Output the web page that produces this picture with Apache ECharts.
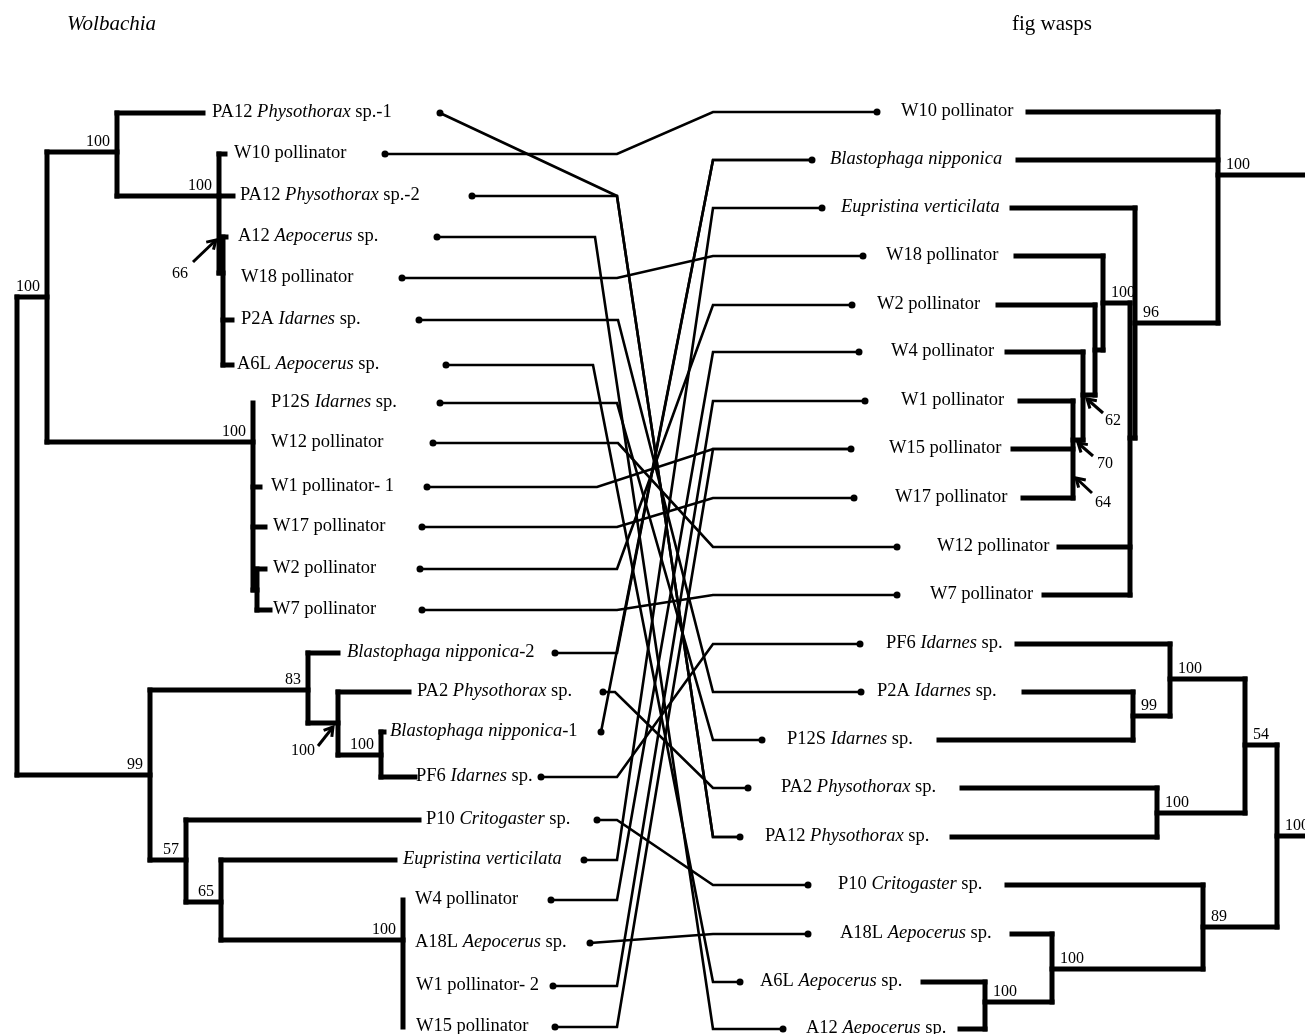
<!DOCTYPE html>
<html><head><meta charset="utf-8">
<script src="https://cdn.jsdelivr.net/npm/echarts@6.0.0/dist/echarts.min.js"></script>
<style>html,body{margin:0;padding:0;background:#fff}#c{width:1305px;height:1034px}</style>
</head><body><div id="c"></div>
<script>
// ---------------- DATA ----------------
// Left tree (Wolbachia) taxa, top to bottom
const leftTaxa = ['PA12 {i|Physothorax} sp.-1','W10 pollinator','PA12 {i|Physothorax} sp.-2','A12 {i|Aepocerus} sp.','W18 pollinator','P2A {i|Idarnes} sp.','A6L {i|Aepocerus} sp.','P12S {i|Idarnes} sp.','W12 pollinator','W1 pollinator- 1','W17 pollinator','W2 pollinator','W7 pollinator','{i|Blastophaga nipponica}-2','PA2 {i|Physothorax} sp.','{i|Blastophaga nipponica}-1','PF6 {i|Idarnes} sp.','P10 {i|Critogaster} sp.','{i|Eupristina verticilata}','W4 pollinator','A18L {i|Aepocerus} sp.','W1 pollinator- 2','W15 pollinator'];
const leftRowY   = [113,154,196,237,278,320,365,403,443,487,527,569,610,653,692,732,777,820,860,900,943,986,1027];
const leftLabelX = [212,234,240,238,241,241,237,271,271,271,273,273,273,347,417,390,416,426,403,415,415,416,416];
const leftLeafX  = [203,225,233,226,223,232,232,253,253,260,265,265,270,338,409,384,415,419,395,403,403,403,403];
const leftDotX   = [440,385,472,437,402,419,446,440,433,427,422,420,422,555,603,601,541,597,584,551,590,553,555];
const leftBendX  = [617,617,617,595,617,618,593,617,618,597,617,617,617,617,615,null,617,617,617,617,null,617,617];

// Right tree (fig wasps) taxa, top to bottom
const rightTaxa = ['W10 pollinator','{i|Blastophaga nipponica}','{i|Eupristina verticilata}','W18 pollinator','W2 pollinator','W4 pollinator','W1 pollinator','W15 pollinator','W17 pollinator','W12 pollinator','W7 pollinator','PF6 {i|Idarnes} sp.','P2A {i|Idarnes} sp.','P12S {i|Idarnes} sp.','PA2 {i|Physothorax} sp.','PA12 {i|Physothorax} sp.','P10 {i|Critogaster} sp.','A18L {i|Aepocerus} sp.','A6L {i|Aepocerus} sp.','A12 {i|Aepocerus} sp.'];
const rightRowY    = [112,160,208,256,305,352,401,449,498,547,595,644,692,740,788,837,885,934,982,1029];
const rightLabelX  = [901,830,841,886,877,891,901,889,895,937,930,886,877,787,781,765,838,840,760,806];
const rightBranchX = [1028,1018,1012,1016,998,1007,1020,1013,1023,1059,1044,1017,1024,939,962,952,1007,1012,923,960];
const rightDotX    = [877,812,822,863,852,859,865,851,854,897,897,860,861,762,748,740,808,808,740,783];
const rightBendX   = 713;

// Associations: [left index, right index, left row whose bend is shared (optional)]
const links = [[0,15,2],[1,0],[2,15],[3,19],[4,3],[5,12],[6,18],[7,13],[8,9],[9,7],[10,8],[11,4],[12,10],[13,1],[14,14],[15,1],[16,11],[17,16],[18,2],[19,5],[20,17],[21,6],[22,7]];

// Tree topologies: node depth (x), attach level (y), bootstrap support (s); leaves refer to taxa (t)
const leftTree = [{x:17, children:[
  {x:47, y:297, s:'100', children:[
    {x:117, y:152, s:'100', children:[
      {t:0},
      {x:219, y:196, s:'100', children:[
        {t:1},{t:2},
        {x:223, y:273, children:[{t:3},{t:4},{t:5},{t:6}]}
      ]}
    ]},
    {x:253, y:442, s:'100', children:[
      {t:7},{t:8},{t:9},{t:10},
      {x:257, y:590, children:[{t:11},{t:12}]}
    ]}
  ]},
  {x:150, y:775, s:'99', children:[
    {x:308, y:690, s:'83', children:[
      {t:13},
      {x:338, y:723, children:[
        {t:14},
        {x:381, y:755, s:'100', children:[{t:15},{t:16}]}
      ]}
    ]},
    {x:186, y:860, s:'57', children:[
      {t:17},
      {x:221, y:902, s:'65', children:[
        {t:18},
        {x:403, y:940, s:'100', children:[{t:19},{t:20},{t:21},{t:22}]}
      ]}
    ]}
  ]}
]}];

const rightTree = [
 {x:1218, y:175, stub:1305, s:'100', children:[
   {t:0},{t:1},
   {x:1135, y:323, s:'96', children:[
     {t:2},
     {x:1130, y:438, children:[
       {x:1103, y:303, s:'100', children:[
         {t:3},
         {x:1095, y:350, children:[
           {t:4},
           {x:1083, y:395, children:[
             {t:5},
             {x:1073, y:440, children:[{t:6},{t:7},{t:8}]}
           ]}
         ]}
       ]},
       {t:9},{t:10}
     ]}
   ]}
 ]},
 {x:1277, y:836, stub:1305, s:'100', children:[
   {x:1245, y:745, s:'54', children:[
     {x:1170, y:679, s:'100', children:[
       {t:11},
       {x:1133, y:716, s:'99', children:[{t:12},{t:13}]}
     ]},
     {x:1157, y:813, s:'100', children:[{t:14},{t:15}]}
   ]},
   {x:1203, y:927, s:'89', children:[
     {t:16},
     {x:1052, y:969, s:'100', children:[
       {t:17},
       {x:985, y:1002, s:'100', children:[{t:18},{t:19}]}
     ]}
   ]}
 ]}
];

// Supports marked with arrows
const arrowNotes = [
 {s:'66',  tail:[193,262],  tip:[216,240],  label:[180,274]},
 {s:'100', tail:[318,746],  tip:[333,727],  label:[303,751]},
 {s:'62',  tail:[1103,413], tip:[1087,399], label:[1113,421]},
 {s:'70',  tail:[1093,456], tip:[1078,443], label:[1105,464]},
 {s:'64',  tail:[1092,493], tip:[1076,478], label:[1103,503]}
];

const titles = [{text:'Wolbachia', italic:true, x:67, y:24}, {text:'fig wasps', italic:false, x:1012, y:24}];

// ---------------- BUILD ----------------
const FONT = '"Liberation Serif","Times New Roman",serif';
const TREE_W = 5, LINK_W = 2.6, DOT = 7, FS = 18.5;

const segs = [];     // [x1,y1,x2,y2]
const supports = []; // [x,y,text,side]
function build(node, side, rowY, leafX) {
  const ys = node.children.map(c => c.t !== undefined ? rowY[c.t] : c.y);
  segs.push([node.x, Math.min(...ys), node.x, Math.max(...ys)]);
  node.children.forEach((c, i) => {
    const cx = c.t !== undefined ? leafX[c.t] : c.x;
    if (cx !== node.x) segs.push([node.x, ys[i], cx, ys[i]]);
    if (c.t === undefined) build(c, side, rowY, leafX);
  });
  if (node.stub) segs.push([node.x, node.y, node.stub, node.y]);
  if (node.s) supports.push([node.x, node.y, node.s, side]);
}
leftTree.forEach(n => build(n, 'L', leftRowY, leftLeafX));
rightTree.forEach(n => build(n, 'R', rightRowY, rightBranchX));

const taxaLabels = [];
leftTaxa.forEach((t, i) => taxaLabels.push([leftLabelX[i], leftRowY[i], t]));
rightTaxa.forEach((t, i) => taxaLabels.push([rightLabelX[i], rightRowY[i], t]));

const dots = [];
leftDotX.forEach((x, i) => dots.push([x, leftRowY[i]]));
rightDotX.forEach((x, i) => dots.push([x, rightRowY[i]]));

const rich = {i: {fontStyle:'italic', fontFamily:FONT, fontSize:FS, fill:'#000'}};

const chart = echarts.init(document.getElementById('c'));
chart.setOption({
  animation: false,
  backgroundColor: '#fff',
  grid: {left:0, right:0, top:0, bottom:0},
  xAxis: {type:'value', min:0, max:1305, show:false},
  yAxis: {type:'value', min:0, max:1034, inverse:true, show:false},
  series: [
    { // tree branches
      type:'custom', clip:false, silent:true,
      data: segs, encode:{x:[0,2], y:[1,3]},
      renderItem: (p, api) => {
        const a = api.coord([api.value(0), api.value(1)]);
        const b = api.coord([api.value(2), api.value(3)]);
        return {type:'line', shape:{x1:a[0], y1:a[1], x2:b[0], y2:b[1]},
          style:{stroke:'#000', lineWidth:TREE_W, lineCap:'square'}};
      }
    },
    { // association lines
      type:'custom', clip:false, silent:true,
      data: links.map((l, i) => [leftDotX[l[0]], leftRowY[l[0]], i]),
      renderItem: (p, api) => {
        const l = links[p.dataIndex];
        const li = l[0], ri = l[1];
        const pts = [[leftDotX[li], leftRowY[li]]];
        const bi = l.length > 2 ? l[2] : li;
        if (leftBendX[bi] !== null) pts.push([leftBendX[bi], leftRowY[bi]]);
        pts.push([rightBendX, rightRowY[ri]]);
        pts.push([rightDotX[ri], rightRowY[ri]]);
        return {type:'polyline', shape:{points: pts.map(q => api.coord(q))},
          style:{stroke:'#000', fill:null, lineWidth:LINK_W, lineJoin:'miter'}};
      }
    },
    { // end dots
      type:'scatter', silent:true, symbol:'circle', symbolSize:DOT,
      itemStyle:{color:'#000', opacity:1}, data: dots
    },
    { // taxa names
      type:'custom', clip:false, silent:true,
      data: taxaLabels.map(d => [d[0], d[1]]),
      renderItem: (p, api) => {
        const c = api.coord([api.value(0), api.value(1)]);
        return {type:'text', x:c[0], y:c[1] - 1,
          style:{text: taxaLabels[p.dataIndex][2], fill:'#000', fontFamily:FONT, fontSize:FS,
            align:'left', verticalAlign:'middle', rich: rich}};
      }
    },
    { // bootstrap supports
      type:'custom', clip:false, silent:true,
      data: supports.map(d => [d[0], d[1]]),
      renderItem: (p, api) => {
        const s = supports[p.dataIndex];
        const c = api.coord([api.value(0), api.value(1)]);
        const left = s[3] === 'L';
        return {type:'text', x: left ? c[0] - 7 : c[0] + 8, y: c[1] - 2,
          style:{text:s[2], fill:'#000', fontFamily:FONT, fontSize:16,
            align: left ? 'right' : 'left', verticalAlign:'bottom'}};
      }
    },
    { // arrow-marked supports
      type:'custom', clip:false, silent:true,
      data: arrowNotes.map(a => a.label),
      renderItem: (p, api) => {
        const a = arrowNotes[p.dataIndex];
        const t = api.coord(a.tail), h = api.coord(a.tip), l = api.coord(a.label);
        const ang = Math.atan2(h[1] - t[1], h[0] - t[0]);
        const L = 10, W = 0.55;
        const w1 = [h[0] - L*Math.cos(ang - W), h[1] - L*Math.sin(ang - W)];
        const w2 = [h[0] - L*Math.cos(ang + W), h[1] - L*Math.sin(ang + W)];
        return {type:'group', children:[
          {type:'polyline', shape:{points:[t, h]}, style:{stroke:'#000', lineWidth:3, fill:null}},
          {type:'polyline', shape:{points:[w1, h, w2]}, style:{stroke:'#000', lineWidth:3, fill:null, lineJoin:'miter'}},
          {type:'text', x:l[0], y:l[1], style:{text:a.s, fill:'#000', fontFamily:FONT, fontSize:16, align:'center', verticalAlign:'middle'}}
        ]};
      }
    },
    { // titles
      type:'custom', clip:false, silent:true,
      data: titles.map(t => [t.x, t.y]),
      renderItem: (p, api) => {
        const t = titles[p.dataIndex];
        const c = api.coord([api.value(0), api.value(1)]);
        return {type:'text', x:c[0], y:c[1],
          style:{text:t.text, fill:'#000', fontFamily:FONT, fontSize:21,
            fontStyle: t.italic ? 'italic' : 'normal', align:'left', verticalAlign:'middle'}};
      }
    }
  ]
});
</script>
</body></html>
